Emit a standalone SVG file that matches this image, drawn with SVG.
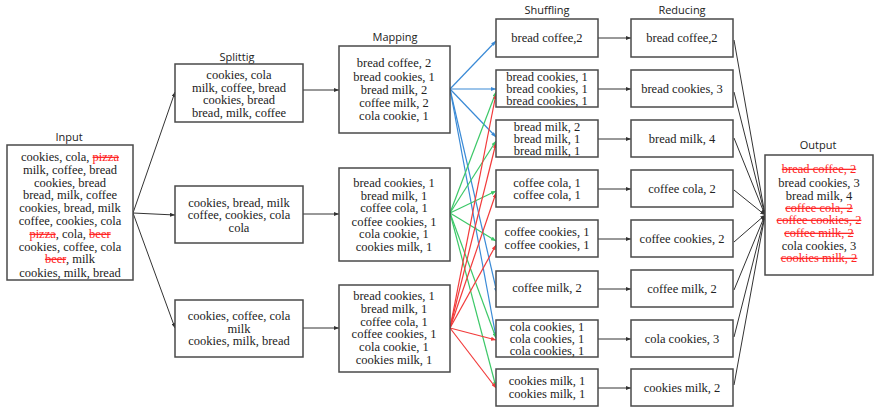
<svg xmlns="http://www.w3.org/2000/svg" width="875" height="408" viewBox="0 0 875 408">
<style>
.box{fill:#fff;stroke:#4a4a4a;stroke-width:1.5}
.t{font-size:12.5px;fill:#222;text-anchor:middle}
.h{font-size:11px;fill:#222;text-anchor:middle}
.s{fill:#f22;text-decoration:line-through}
.k{stroke:#333;stroke-width:1;fill:none}
.b{stroke:#3a8ad6;stroke-width:1.2;fill:none}
.g{stroke:#3cc868;stroke-width:1.2;fill:none}
.rd{stroke:#f23a3a;stroke-width:1.2;fill:none}
</style>
<defs>
<marker id="ak" markerWidth="5" markerHeight="4" refX="5" refY="2" orient="auto" markerUnits="userSpaceOnUse"><path d="M0,0L5,2L0,4z" fill="#333"/></marker>
<marker id="ab" markerWidth="5" markerHeight="4" refX="5" refY="2" orient="auto" markerUnits="userSpaceOnUse"><path d="M0,0L5,2L0,4z" fill="#3a8ad6"/></marker>
<marker id="ag" markerWidth="5" markerHeight="4" refX="5" refY="2" orient="auto" markerUnits="userSpaceOnUse"><path d="M0,0L5,2L0,4z" fill="#3cc868"/></marker>
<marker id="ar" markerWidth="5" markerHeight="4" refX="5" refY="2" orient="auto" markerUnits="userSpaceOnUse"><path d="M0,0L5,2L0,4z" fill="#f23a3a"/></marker>
</defs>
<rect width="875" height="408" fill="#fff"/>

<g id="titles" font-family="Open Sans, Liberation Sans, sans-serif">
<text class="h" x="69" y="141">Input</text>
<text class="h" x="237" y="61">Splittig</text>
<text class="h" x="395" y="41">Mapping</text>
<text class="h" x="547" y="14">Shuffling</text>
<text class="h" x="682" y="14">Reducing</text>
<text class="h" x="818" y="149">Output</text>
</g>

<g id="connectors">
<line class="k" x1="133" y1="213" x2="175" y2="92" marker-end="url(#ak)"/>
<line class="k" x1="133" y1="213" x2="175" y2="215" marker-end="url(#ak)"/>
<line class="k" x1="133" y1="213" x2="175" y2="328" marker-end="url(#ak)"/>
<line class="k" x1="303" y1="90" x2="339" y2="90" marker-end="url(#ak)"/>
<line class="k" x1="303" y1="214" x2="339" y2="214" marker-end="url(#ak)"/>
<line class="k" x1="303" y1="328" x2="339" y2="328" marker-end="url(#ak)"/>
<line class="b" x1="450" y1="89" x2="496" y2="41" marker-end="url(#ab)"/>
<line class="b" x1="450" y1="89" x2="496" y2="89" marker-end="url(#ab)"/>
<line class="b" x1="450" y1="89" x2="496" y2="137" marker-end="url(#ab)"/>
<line class="b" x1="450" y1="89" x2="497" y2="293" marker-end="url(#ab)"/>
<line class="b" x1="450" y1="89" x2="496" y2="337" marker-end="url(#ab)"/>
<line class="g" x1="450" y1="213" x2="496" y2="92" marker-end="url(#ag)"/>
<line class="g" x1="450" y1="213" x2="496" y2="141" marker-end="url(#ag)"/>
<line class="g" x1="450" y1="213" x2="496" y2="191" marker-end="url(#ag)"/>
<line class="g" x1="450" y1="213" x2="496" y2="241" marker-end="url(#ag)"/>
<line class="g" x1="450" y1="213" x2="496" y2="338" marker-end="url(#ag)"/>
<line class="g" x1="450" y1="213" x2="496" y2="387" marker-end="url(#ag)"/>
<line class="rd" x1="450" y1="328" x2="496" y2="94" marker-end="url(#ar)"/>
<line class="rd" x1="450" y1="328" x2="496" y2="143" marker-end="url(#ar)"/>
<line class="rd" x1="450" y1="328" x2="496" y2="193" marker-end="url(#ar)"/>
<line class="rd" x1="450" y1="328" x2="496" y2="245" marker-end="url(#ar)"/>
<line class="rd" x1="450" y1="328" x2="496" y2="340" marker-end="url(#ar)"/>
<line class="rd" x1="450" y1="328" x2="496" y2="388" marker-end="url(#ar)"/>
<line class="k" x1="598" y1="38" x2="631" y2="38" marker-end="url(#ak)"/>
<line class="k" x1="598" y1="89" x2="631" y2="89" marker-end="url(#ak)"/>
<line class="k" x1="598" y1="139" x2="631" y2="139" marker-end="url(#ak)"/>
<line class="k" x1="598" y1="189" x2="631" y2="189" marker-end="url(#ak)"/>
<line class="k" x1="598" y1="239" x2="631" y2="239" marker-end="url(#ak)"/>
<line class="k" x1="598" y1="289" x2="631" y2="289" marker-end="url(#ak)"/>
<line class="k" x1="598" y1="339" x2="631" y2="339" marker-end="url(#ak)"/>
<line class="k" x1="598" y1="388" x2="631" y2="388" marker-end="url(#ak)"/>
<line class="k" x1="734" y1="40" x2="765" y2="215" marker-end="url(#ak)"/>
<line class="k" x1="734" y1="92" x2="765" y2="215" marker-end="url(#ak)"/>
<line class="k" x1="734" y1="138" x2="765" y2="215" marker-end="url(#ak)"/>
<line class="k" x1="734" y1="190" x2="765" y2="215" marker-end="url(#ak)"/>
<line class="k" x1="734" y1="242" x2="765" y2="215" marker-end="url(#ak)"/>
<line class="k" x1="734" y1="290" x2="765" y2="215" marker-end="url(#ak)"/>
<line class="k" x1="734" y1="337" x2="765" y2="215" marker-end="url(#ak)"/>
<line class="k" x1="734" y1="385" x2="765" y2="215" marker-end="url(#ak)"/>
</g>

<g id="nodes" font-family="Liberation Serif, Times New Roman, serif">
<g id="input">
<rect class="box" x="7" y="145" width="126" height="135"/>
<text class="t" x="70" y="161">cookies, cola, <tspan class="s">pizza</tspan></text>
<text class="t" x="70" y="174">milk, coffee, bread</text>
<text class="t" x="70" y="187">cookies, bread</text>
<text class="t" x="70" y="199">bread, milk, coffee</text>
<text class="t" x="70" y="212">cookies, bread, milk</text>
<text class="t" x="70" y="225">coffee, cookies, cola</text>
<text class="t" x="70" y="238"><tspan class="s">pizza</tspan>, cola, <tspan class="s">beer</tspan></text>
<text class="t" x="70" y="251">cookies, coffee, cola</text>
<text class="t" x="70" y="263"><tspan class="s">beer</tspan>, milk</text>
<text class="t" x="70" y="277">cookies, milk, bread</text>
</g>

<g id="split1">
<rect class="box" x="175" y="64" width="128" height="58"/>
<text class="t" x="239" y="79">cookies, cola</text>
<text class="t" x="239" y="92">milk, coffee, bread</text>
<text class="t" x="239" y="104">cookies, bread</text>
<text class="t" x="239" y="117">bread, milk, coffee</text>
</g>
<g id="split2">
<rect class="box" x="175" y="186" width="128" height="57"/>
<text class="t" x="239" y="207">cookies, bread, milk</text>
<text class="t" x="239" y="219">coffee, cookies, cola</text>
<text class="t" x="239" y="232">cola</text>
</g>
<g id="split3">
<rect class="box" x="175" y="300" width="128" height="57"/>
<text class="t" x="239" y="320">cookies, coffee, cola</text>
<text class="t" x="239" y="333">milk</text>
<text class="t" x="239" y="345">cookies, milk, bread</text>
</g>

<g id="map1">
<rect class="box" x="339" y="46" width="111" height="87"/>
<text class="t" x="394" y="67">bread coffee, 2</text>
<text class="t" x="394" y="81">bread cookies, 1</text>
<text class="t" x="394" y="94">bread milk, 2</text>
<text class="t" x="394" y="107">coffee milk, 2</text>
<text class="t" x="394" y="120">cola cookie, 1</text>
</g>
<g id="map2">
<rect class="box" x="339" y="168" width="111" height="93"/>
<text class="t" x="394" y="187">bread cookies, 1</text>
<text class="t" x="394" y="200">bread milk, 1</text>
<text class="t" x="394" y="212">coffee cola, 1</text>
<text class="t" x="394" y="226">coffee cookies, 1</text>
<text class="t" x="394" y="238">cola cookie, 1</text>
<text class="t" x="394" y="251">cookies milk, 1</text>
</g>
<g id="map3">
<rect class="box" x="339" y="285" width="111" height="87"/>
<text class="t" x="394" y="300">bread cookies, 1</text>
<text class="t" x="394" y="313">bread milk, 1</text>
<text class="t" x="394" y="326">coffee cola, 1</text>
<text class="t" x="394" y="338">coffee cookies, 1</text>
<text class="t" x="394" y="351">cola cookie, 1</text>
<text class="t" x="394" y="364">cookies milk, 1</text>
</g>

<g id="shuf1"><rect class="box" x="496" y="19" width="102" height="38"/><text class="t" x="547" y="42">bread coffee,2</text></g>
<g id="shuf2"><rect class="box" x="496" y="70" width="102" height="37"/>
<text class="t" x="547" y="80.5">bread cookies, 1</text><text class="t" x="547" y="92.5">bread cookies, 1</text><text class="t" x="547" y="104.5">bread cookies, 1</text></g>
<g id="shuf3"><rect class="box" x="496" y="120" width="102" height="37"/>
<text class="t" x="547" y="130.5">bread milk, 2</text><text class="t" x="547" y="142.5">bread milk, 1</text><text class="t" x="547" y="154.5">bread milk, 1</text></g>
<g id="shuf4"><rect class="box" x="496" y="170" width="102" height="37"/>
<text class="t" x="547" y="187">coffee cola, 1</text><text class="t" x="547" y="199">coffee cola, 1</text></g>
<g id="shuf5"><rect class="box" x="496" y="220" width="102" height="37"/>
<text class="t" x="547" y="236">coffee cookies, 1</text><text class="t" x="547" y="249">coffee cookies, 1</text></g>
<g id="shuf6"><rect class="box" x="496" y="271" width="102" height="36"/>
<text class="t" x="547" y="292">coffee milk, 2</text></g>
<g id="shuf7"><rect class="box" x="496" y="320" width="102" height="37"/>
<text class="t" x="547" y="330.5">cola cookies, 1</text><text class="t" x="547" y="342.5">cola cookies, 1</text><text class="t" x="547" y="354.5">cola cookies, 1</text></g>
<g id="shuf8"><rect class="box" x="496" y="369" width="102" height="37"/>
<text class="t" x="547" y="385">cookies milk, 1</text><text class="t" x="547" y="398">cookies milk, 1</text></g>

<g id="red1"><rect class="box" x="631" y="19" width="102" height="38"/><text class="t" x="682" y="42">bread coffee,2</text></g>
<g id="red2"><rect class="box" x="631" y="70" width="102" height="37"/><text class="t" x="682" y="93">bread cookies, 3</text></g>
<g id="red3"><rect class="box" x="631" y="120" width="102" height="37"/><text class="t" x="682" y="143">bread milk, 4</text></g>
<g id="red4"><rect class="box" x="631" y="170" width="102" height="37"/><text class="t" x="682" y="193">coffee cola, 2</text></g>
<g id="red5"><rect class="box" x="631" y="220" width="102" height="37"/><text class="t" x="682" y="243">coffee cookies, 2</text></g>
<g id="red6"><rect class="box" x="631" y="270" width="102" height="37"/><text class="t" x="682" y="293">coffee milk, 2</text></g>
<g id="red7"><rect class="box" x="631" y="320" width="102" height="37"/><text class="t" x="682" y="343">cola cookies, 3</text></g>
<g id="red8"><rect class="box" x="631" y="369" width="102" height="37"/><text class="t" x="682" y="392">cookies milk, 2</text></g>

<g id="output">
<rect class="box" x="765" y="155" width="108" height="120"/>
<text class="t" x="819" y="173"><tspan class="s">bread coffee, 2</tspan></text>
<text class="t" x="819" y="187">bread cookies, 3</text>
<text class="t" x="819" y="200">bread milk, 4</text>
<text class="t" x="819" y="212"><tspan class="s">coffee cola, 2</tspan></text>
<text class="t" x="819" y="224"><tspan class="s">coffee cookies, 2</tspan></text>
<text class="t" x="819" y="237"><tspan class="s">coffee milk, 2</tspan></text>
<text class="t" x="819" y="250">cola cookies, 3</text>
<text class="t" x="819" y="262"><tspan class="s">cookies milk, 2</tspan></text>
</g>
</g>
</svg>
